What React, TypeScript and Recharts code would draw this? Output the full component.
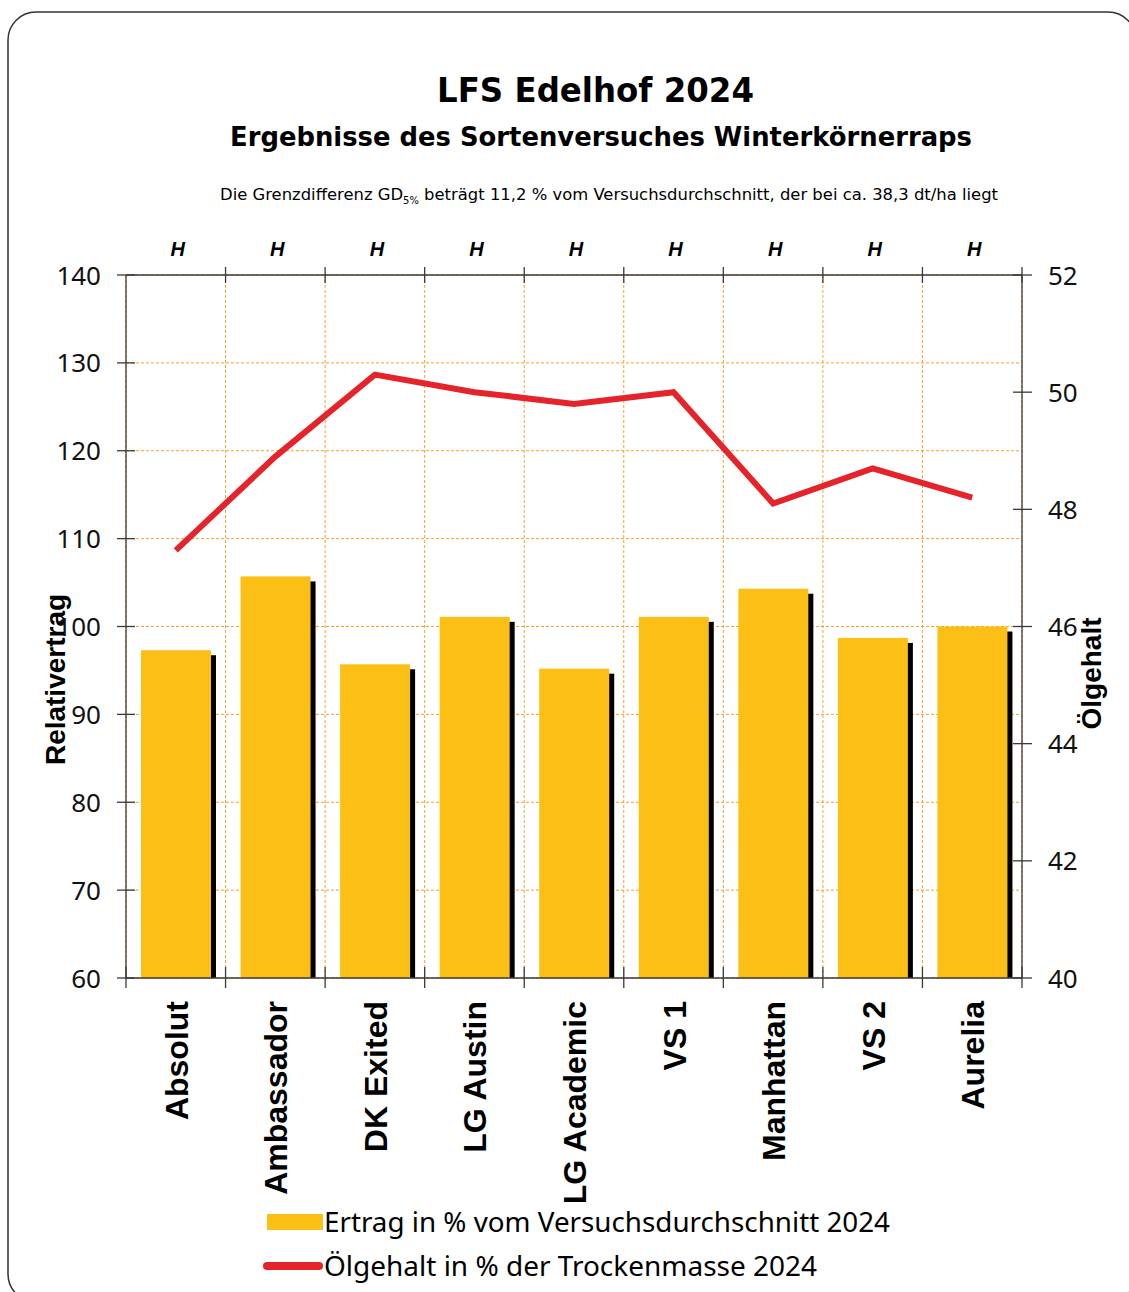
import { ComposedChart, Bar, Line, XAxis, YAxis, CartesianGrid } from 'recharts'

// Sorten und Werte
const varieties = ['Absolut', 'Ambassador', 'DK Exited', 'LG Austin', 'LG Academic', 'VS 1', 'Manhattan', 'VS 2', 'Aurelia']
const relYield = [97.3, 105.7, 95.7, 101.1, 95.2, 101.1, 104.3, 98.7, 100.0]
const oilContent = [47.3, 48.9, 50.3, 50.0, 49.8, 50.0, 48.1, 48.7, 48.2]
const hybridMarks = ['H', 'H', 'H', 'H', 'H', 'H', 'H', 'H', 'H']

const leftTicks = [60, 70, 80, 90, 100, 110, 120, 130, 140]
const rightTicks = [40, 42, 44, 46, 48, 50, 52]
const boundaryTicks = [0, 1, 2, 3, 4, 5, 6, 7, 8, 9]
const topBoundaryTicks = [1, 2, 3, 4, 5, 6, 7, 8, 9]
const markTicks = [0.5, 1.5, 2.5, 3.5, 4.5, 5.5, 6.5, 7.5, 8.5]

const data = varieties.map((name, i) => ({ name, ertrag: relYield[i], oel: oilContent[i] }))

// Index der Sorte, damit die numerischen Hilfsachsen nicht auf den Index-Modus zurückfallen
const slotOf = (d: any) => varieties.indexOf(d.name)

const W = 1129
const H = 1292
const BAR = '#FBBF16'
const RED = '#E5232A'
const GRID = '#F5A12A'
const AXIS = '#3a3a3a'
const NUM_FONT = '"Noto Sans", sans-serif'
const BOLD_FONT = '"Liberation Sans", Arial, sans-serif'
const TITLE_FONT = '"DejaVu Sans", sans-serif'

function ShadowBar(props: any) {
  const { x, y, width, height } = props
  if (height == null || height <= 0) return null
  return (
    <g>
      <rect x={x + 5} y={y + 5} width={width} height={Math.max(0, height - 5)} fill="#000" />
      <rect x={x} y={y} width={width} height={height} fill={BAR} />
    </g>
  )
}

function LeftTick({ x, y, payload }: any) {
  return (
    <g>
      <line x1={x - 9} x2={x + 9} y1={y} y2={y} stroke={AXIS} strokeWidth={1.3} />
      <text x={x - 25} y={y + 9.5} textAnchor="end" fontSize={26} fontFamily={NUM_FONT} fill="#111">
        {payload.value}
      </text>
    </g>
  )
}

function RightTick({ x, y, payload }: any) {
  return (
    <g>
      <line x1={x - 9} x2={x + 10} y1={y} y2={y} stroke={AXIS} strokeWidth={1.3} />
      <text x={x + 26} y={y + 9.5} textAnchor="start" fontSize={26} fontFamily={NUM_FONT} fill="#111">
        {payload.value}
      </text>
    </g>
  )
}

function CategoryTick({ x, y, payload }: any) {
  return (
    <g transform={`translate(${x + 12},${y}) rotate(-90)`}>
      <text textAnchor="end" fontSize={32} fontWeight="bold" fontFamily={BOLD_FONT} fill="#000">
        {payload.value}
      </text>
    </g>
  )
}

function MarkTick({ x, y, index }: any) {
  return (
    <text x={x + 2} y={y} textAnchor="middle" fontSize={20} fontWeight="bold" fontStyle="italic" fontFamily={BOLD_FONT} fill="#000">
      {hybridMarks[index]}
    </text>
  )
}

function BottomBoundaryTick({ x, y }: any) {
  return <line x1={x} x2={x} y1={y - 11} y2={y + 10} stroke={AXIS} strokeWidth={1.3} />
}

function TopBoundaryTick({ x, y }: any) {
  return <line x1={x} x2={x} y1={y - 8} y2={y + 8} stroke={AXIS} strokeWidth={1.3} />
}

export default function App() {
  return (
    <div style={{ position: 'absolute', left: 0, top: 0, width: W, height: H, overflow: 'hidden', background: '#fff' }}>
      <div style={{ position: 'absolute', left: 0, top: 0 }}>
        <ComposedChart width={W} height={H} data={data} margin={{ top: 235, right: 7, bottom: 94, left: 26 }}>
          <CartesianGrid
            xAxisId="bt"
            yAxisId="L"
            stroke={GRID}
            strokeDasharray="3 2"
            strokeWidth={1}
          />
          <XAxis
            xAxisId="cat"
            dataKey="name"
            type="category"
            orientation="bottom"
            height={220}
            interval={0}
            tickLine={false}
            tickSize={0}
            tickMargin={23}
            axisLine={{ stroke: AXIS, strokeWidth: 1.3 }}
            tick={CategoryTick}
          />
          <XAxis
            xAxisId="bb"
            dataKey={slotOf}
            type="number"
            orientation="bottom"
            mirror
            domain={[0, 9]}
            allowDataOverflow
            ticks={boundaryTicks}
            interval={0}
            tickLine={false}
            tickSize={0}
            tickMargin={0}
            axisLine={false}
            tick={BottomBoundaryTick}
          />
          <XAxis
            xAxisId="marks"
            dataKey={slotOf}
            type="number"
            orientation="top"
            height={40}
            domain={[0, 9]}
            allowDataOverflow
            ticks={markTicks}
            interval={0}
            tickLine={false}
            tickSize={0}
            tickMargin={19}
            axisLine={{ stroke: AXIS, strokeWidth: 1.3 }}
            tick={MarkTick}
          />
          <XAxis
            xAxisId="bt"
            dataKey={slotOf}
            type="number"
            orientation="top"
            mirror
            domain={[0, 9]}
            allowDataOverflow
            ticks={topBoundaryTicks}
            interval={0}
            tickLine={false}
            tickSize={0}
            tickMargin={0}
            axisLine={false}
            tick={TopBoundaryTick}
          />
          <YAxis
            yAxisId="L"
            orientation="left"
            width={100}
            domain={[60, 140]}
            allowDataOverflow
            ticks={leftTicks}
            interval={0}
            tickLine={false}
            tickSize={0}
            tickMargin={0}
            axisLine={{ stroke: AXIS, strokeWidth: 1.3 }}
            tick={LeftTick}
            label={{
              content: (p: any) => {
                const vb = p.viewBox
                return (
                  <g transform={`translate(${vb.x + 39},${vb.y + vb.height / 2 + 53}) rotate(-90)`}>
                    <text textAnchor="middle" fontSize={28} fontWeight="bold" fontFamily={BOLD_FONT} fill="#000">
                      Relativertrag
                    </text>
                  </g>
                )
              },
            }}
          />
          <YAxis
            yAxisId="R"
            orientation="right"
            width={100}
            domain={[40, 52]}
            allowDataOverflow
            ticks={rightTicks}
            interval={0}
            tickLine={false}
            tickSize={0}
            tickMargin={0}
            axisLine={{ stroke: AXIS, strokeWidth: 1.3 }}
            tick={RightTick}
            label={{
              content: (p: any) => {
                const vb = p.viewBox
                return (
                  <g transform={`translate(${vb.x + 79},${vb.y + vb.height / 2 + 47}) rotate(-90)`}>
                    <text textAnchor="middle" fontSize={28} fontWeight="bold" fontFamily={BOLD_FONT} fill="#000">
                      Ölgehalt
                    </text>
                  </g>
                )
              },
            }}
          />
          <Bar
            xAxisId="cat"
            yAxisId="L"
            dataKey="ertrag"
            barSize={70}
            fill={BAR}
            shape={ShadowBar}
            isAnimationActive={false}
          />
          <Line
            xAxisId="cat"
            yAxisId="R"
            dataKey="oel"
            type="linear"
            stroke={RED}
            strokeWidth={6}
            dot={false}
            activeDot={false}
            isAnimationActive={false}
          />
        </ComposedChart>
      </div>
      <svg width={W} height={H} style={{ position: 'absolute', left: 0, top: 0, pointerEvents: 'none' }}>
        <rect x={8} y={12} width={1128} height={1290} rx={28} ry={28} fill="none" stroke="#333" strokeWidth={1.5} />
        <text x={595.5} y={102} textAnchor="middle" fontSize={33} fontWeight="bold" fontFamily={TITLE_FONT} textLength={317} lengthAdjust="spacingAndGlyphs" fill="#000">
          LFS Edelhof 2024
        </text>
        <text x={601} y={146} textAnchor="middle" fontSize={27} fontWeight="bold" fontFamily={TITLE_FONT} textLength={742} lengthAdjust="spacingAndGlyphs" fill="#000">
          Ergebnisse des Sortenversuches Winterkörnerraps
        </text>
        <text x={609} y={200} textAnchor="middle" fontSize={16.5} fontFamily={TITLE_FONT} textLength={778} lengthAdjust="spacingAndGlyphs" fill="#000">
          Die Grenzdifferenz GD<tspan fontSize={10} dy={4}>5%</tspan><tspan dy={-4}> beträgt 11,2 % vom Versuchsdurchschnitt, der bei ca. 38,3 dt/ha liegt</tspan>
        </text>
        <rect x={267} y={1214} width={56} height={16} fill={BAR} />
        <text x={324} y={1232} fontSize={28} fontFamily={NUM_FONT} textLength={566} lengthAdjust="spacingAndGlyphs" fill="#000">
          Ertrag in % vom Versuchsdurchschnitt 2024
        </text>
        <line x1={267} x2={319} y1={1266} y2={1266} stroke={RED} strokeWidth={8} strokeLinecap="round" />
        <text x={324} y={1276} fontSize={28} fontFamily={NUM_FONT} textLength={493} lengthAdjust="spacingAndGlyphs" fill="#000">
          Ölgehalt in % der Trockenmasse 2024
        </text>
      </svg>
    </div>
  )
}
